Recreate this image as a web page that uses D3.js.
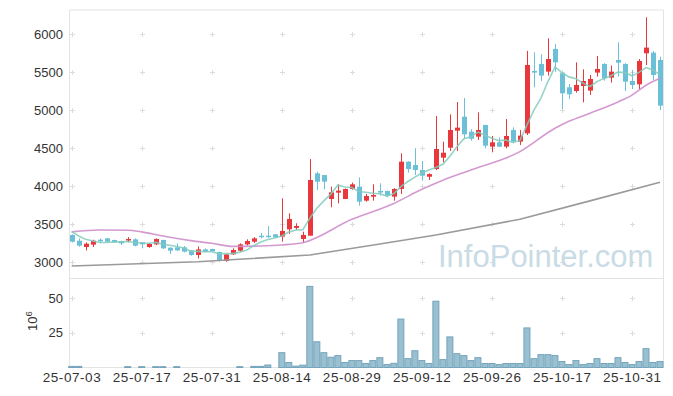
<!DOCTYPE html>
<html><head><meta charset="utf-8">
<script src="https://cdn.jsdelivr.net/npm/d3@7"></script>
<style>body{margin:0;background:#fff;}svg{display:block;font-family:"Liberation Sans",Arial,sans-serif;}</style>
</head><body><svg id="c" width="673" height="396"></svg>
<script>
const dates = [
"2025-07-03","2025-07-04","2025-07-07","2025-07-08","2025-07-09","2025-07-10","2025-07-11","2025-07-14","2025-07-15","2025-07-16","2025-07-17","2025-07-18","2025-07-21","2025-07-22","2025-07-23","2025-07-24","2025-07-25","2025-07-28","2025-07-29","2025-07-30","2025-07-31",
"2025-08-01","2025-08-04","2025-08-05","2025-08-06","2025-08-07","2025-08-08","2025-08-11","2025-08-12","2025-08-13","2025-08-14","2025-08-18","2025-08-19","2025-08-20","2025-08-21","2025-08-22","2025-08-25","2025-08-26","2025-08-27","2025-08-28","2025-08-29",
"2025-09-01","2025-09-02","2025-09-03","2025-09-04","2025-09-05","2025-09-08","2025-09-09","2025-09-10","2025-09-11","2025-09-12","2025-09-15","2025-09-16","2025-09-17","2025-09-18","2025-09-19","2025-09-22","2025-09-23","2025-09-24","2025-09-25","2025-09-26","2025-09-29","2025-09-30",
"2025-10-01","2025-10-02","2025-10-10","2025-10-13","2025-10-14","2025-10-15","2025-10-16","2025-10-17","2025-10-20","2025-10-21","2025-10-22","2025-10-23","2025-10-24","2025-10-27","2025-10-28","2025-10-29","2025-10-30","2025-10-31",
"2025-11-03","2025-11-04","2025-11-05","2025-11-06"];

const open  = [3359,3284,3201,3232,3297,3315,3293,3280,3288,3302,3262,3201,3236,3293,3192,3197,3197,3157,3096,3170,3175,3135,3017,3105,3153,3236,3271,3350,3350,3368,
               3338,3434,3452,3307,3350,4170,4148,3833,3916,3833,3965,3995,3811,3864,3938,3938,3864,3965,4324,4280,4214,4126,4227,4377,4508,4732,4916,4719,4653,4807,
               4522,4579,4522,4741,4588,4697,5518,5610,5509,5807,5487,5303,5254,5320,5259,5496,5610,5430,5662,5610,5386,5342,5750,5759,5662];
const high  = [3368,3315,3262,3297,3315,3320,3297,3284,3332,3315,3266,3254,3315,3297,3197,3249,3214,3162,3210,3184,3179,3140,3110,3184,3249,3302,3332,3385,3478,3372,
               3842,3644,3513,3403,4359,4192,4148,3995,4026,3970,4048,4117,3899,4026,4039,3945,3975,4434,4330,4500,4333,4170,4925,4587,4947,5109,5162,4750,4973,4810,
               4662,4640,4886,4776,4741,5781,5763,5737,5947,5873,5500,5346,5631,5539,5465,5715,5620,5588,5894,5620,5531,5675,6224,5780,5706];
const low   = [3262,3206,3157,3201,3254,3262,3254,3228,3262,3210,3184,3192,3228,3175,3109,3148,3131,3087,3052,3131,3140,3008,3008,3096,3140,3219,3254,3315,3324,3320,
               3272,3373,3425,3259,3350,3951,3960,3723,3776,3830,3955,3745,3798,3811,3877,3855,3811,3899,4180,4148,4074,4083,4214,4315,4464,4464,4626,4600,4610,4500,
               4447,4515,4500,4566,4544,4675,5303,5386,5457,5509,5017,5149,5233,5105,5203,5443,5390,5364,5443,5254,5280,5280,5596,5400,5004];
const close = [3271,3219,3245,3284,3280,3271,3262,3249,3306,3219,3236,3241,3306,3184,3153,3157,3140,3096,3170,3140,3144,3021,3105,3162,3236,3280,3315,3337,3337,3330,
               3412,3570,3478,3360,4083,4061,4061,3921,3943,3965,4026,3798,3872,3886,3925,3877,3965,4324,4227,4214,4139,4161,4491,4442,4741,4772,4684,4626,4741,4535,
               4579,4522,4662,4588,4666,5597,5496,5457,5675,5631,5224,5211,5333,5386,5412,5544,5421,5509,5627,5377,5333,5649,5825,5465,5061];
// volume in millions of shares
const volume = [0.8,0.8,0,0,0,0,0,0,0.6,0,0.6,0,0.6,0.6,0,0.6,0,0,0,0,0,0,0,0,0.6,0,0.8,0.8,1.8,0,
                10.7,3.6,1.0,1.7,58.6,18.6,10.7,7.4,8.6,3.6,5.0,5.0,2.9,5.0,7.1,2.1,3.0,35,6.4,12.1,5.0,2.9,47.9,5.7,22.1,10.0,8.6,5.0,7.1,2.9,
                2.9,2.1,2.9,2.9,2.9,28.6,6.4,9.3,9.3,8.6,4.3,2.1,5.0,2.1,2.9,6.4,2.9,2.9,7.1,3.6,2.1,4.3,13.6,3.6,4.3];
// closes of the four sessions before the first one shown (for the 5-day average)
const priorCloses = [3504,3465,3394,3381];
// 20-day and 60-day averages at these sessions
const ma20Idx = [0,4,8,10,13,17,20,23,27,30,33,40,46,50,53,57,64,69,71,74,78,80,82,84];
const ma20Val = [3400,3425,3422,3400,3345,3285,3250,3210,3215,3228,3258,3565,3775,3960,4080,4215,4456,4763,4855,4961,5110,5200,5330,5421];
const ma60Idx = [0,18,34,44,52,64,74,84];
const ma60Val = [2951,3008,3096,3240,3360,3566,3808,4053];

const priceTicks = [3000,3500,4000,4500,5000,5500,6000];
const volTicks = [25,50];
const xTickIdx = [0,10,20,30,40,50,60,70,80];

const svg = d3.select("#c");
const L = 69.5, R = 663.5, T = 10, MID = 278.5, B = 367.5;
const n = close.length;
const x = d3.scaleLinear().domain([0, n-1]).range([71.7, 660]);
const y = d3.scaleLinear().domain([3000, 6000]).range([262.3, 34.3]);
const yv = d3.scaleLinear().domain([0, 50]).range([B, 298.3]);

// frame
const frame = "#e3e3e3";
[[L,R,T,T],[L,L,T,B],[R,R,T,B],[L,R,MID,MID],[L,R,B,B]].forEach(s =>
  svg.append("line").attr("x1",s[0]).attr("x2",s[1]).attr("y1",s[2]).attr("y2",s[3]).attr("stroke",frame));

// grid crosses
const gridG = svg.append("g").attr("stroke","#dcdcdc").attr("stroke-width",1);
function cross(cx, cy){
  gridG.append("line").attr("x1",cx-2.5).attr("x2",cx+2.5).attr("y1",cy).attr("y2",cy);
  gridG.append("line").attr("x1",cx).attr("x2",cx).attr("y1",cy-2.5).attr("y2",cy+2.5);
}
xTickIdx.forEach(i => {
  priceTicks.forEach(p => cross(Math.round(x(i))+0.5, Math.round(y(p))+0.5));
  volTicks.forEach(v => cross(Math.round(x(i))+0.5, Math.round(yv(v))+0.5));
});

// watermark
svg.append("text").attr("x",438).attr("y",267).attr("font-size",31)
  .attr("fill","#c9dbe5").text("InfoPointer.com");

// clip for main panel
svg.append("clipPath").attr("id","mainclip").append("rect").attr("x",L).attr("y",T).attr("width",R-L).attr("height",MID-T);
const main = svg.append("g").attr("clip-path","url(#mainclip)");

const red = "#e8383c", blue = "#6bbfd7";
const bw = 5;
const candles = main.append("g");
d3.range(n).forEach(i => {
  const up = close[i] >= open[i];
  const col = up ? red : blue;
  const cx = Math.round(x(i)) + 0.5;
  candles.append("line").attr("x1",cx).attr("x2",cx).attr("y1",y(high[i])).attr("y2",y(low[i]))
    .attr("stroke",col).attr("stroke-width",1);
  const top = y(Math.max(open[i],close[i])), bot = y(Math.min(open[i],close[i]));
  candles.append("rect").attr("x",cx - bw/2).attr("y",top).attr("width",bw).attr("height",Math.max(1.5,bot-top))
    .attr("fill",col);
});

// moving averages
const allC = priorCloses.concat(close);
const ma5 = d3.range(n).map(i => d3.mean(allC.slice(i, i+5)));
const line = d3.line().x(d => x(d[0])).y(d => y(d[1]));
main.append("path").datum(ma60Idx.map((d,k)=>[d, ma60Val[k]])).attr("d", line)
  .attr("fill","none").attr("stroke","#9a9a9a").attr("stroke-width",1.6);
main.append("path").datum(ma20Idx.map((d,k)=>[d, ma20Val[k]])).attr("d", d3.line().x(d=>x(d[0])).y(d=>y(d[1])).curve(d3.curveMonotoneX))
  .attr("fill","none").attr("stroke","#cf8fcb").attr("stroke-width",1.6).attr("opacity",0.9);
main.append("path").datum(ma5.map((v,i)=>[i,v])).attr("d", line)
  .attr("fill","none").attr("stroke","#83cbbd").attr("stroke-width",1.6).attr("opacity",0.85);

// volume bars
const bandW = x(1) - x(0);
const vg = svg.append("g");
volume.forEach((v,i) => {
  if (v <= 0) return;
  const x0 = x(i) - bandW/2;
  vg.append("rect").attr("x", x0+0.5).attr("y", yv(v)).attr("width", bandW-1).attr("height", B - yv(v))
    .attr("fill","#99c0d0").attr("stroke","#74a4bb").attr("stroke-width",1);
});

// axes labels
const txt = "#333";
priceTicks.forEach(p => {
  svg.append("text").attr("x",63).attr("y",y(p)+4.5).attr("text-anchor","end")
    .attr("font-size",13).attr("fill",txt).text(p);
});
volTicks.forEach(v => {
  svg.append("text").attr("x",63).attr("y",yv(v)+4.5).attr("text-anchor","end")
    .attr("font-size",13).attr("fill",txt).text(v);
});
const vl = svg.append("text").attr("transform","translate(37,331) rotate(-90)")
  .attr("font-size",13).attr("fill",txt);
vl.append("tspan").text("10");
vl.append("tspan").attr("dy",-5).attr("font-size",9.5).text("6");

xTickIdx.forEach(i => {
  svg.append("text").attr("x",x(i)).attr("y",382).attr("text-anchor","middle")
    .attr("font-size",13.5).attr("fill",txt)
    .attr("textLength",58).attr("lengthAdjust","spacing")
    .text(dates[i].slice(2));
});
</script></body></html>
